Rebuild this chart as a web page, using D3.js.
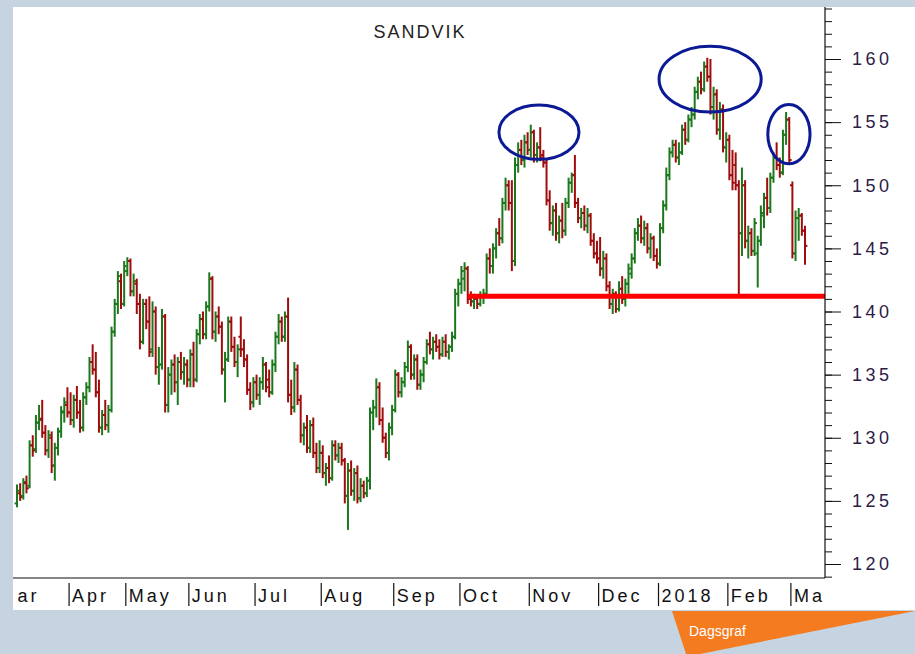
<!DOCTYPE html>
<html>
<head>
<meta charset="utf-8">
<script src="https://cdn.jsdelivr.net/npm/d3@7"></script>
<style>
  body { margin: 0; background: #c6d4e1; }
  svg { display: block; }
  text { font-family: "Liberation Sans", Arial, sans-serif; }
</style>
</head>
<body>
<svg width="915" height="654"></svg>
<script>
// titel och månader
const title = "SANDVIK";
const monthLabels = ["Mar", "Apr", "May", "Jun", "Jul", "Aug", "Sep", "Oct", "Nov", "Dec", "2018", "Feb", "Mar"];
const monthBars = [17, 18, 20, 21, 21, 23, 21, 22, 22, 19, 22, 20, 5];
const priceTicks = [120, 125, 130, 135, 140, 145, 150, 155, 160];

// dagsdata [open, high, low, close]
const ohlc = [
  // mar
  [124.8,126.3,124.5,125.8],[125.6,126.4,125.0,125.3],[125.4,126.8,125.1,126.5],[126.4,127.0,125.6,126.0],
  [126.2,129.8,126.0,129.4],[129.4,130.2,128.5,129.0],[129.1,131.8,128.8,131.2],[131.2,132.6,130.6,131.4],
  [131.5,133.0,130.0,130.4],[130.4,131.0,128.6,129.0],[129.0,130.6,128.4,130.2],[130.0,130.5,127.2,127.8],
  [127.8,129.6,126.6,129.2],[129.2,130.8,128.6,130.5],[130.5,132.5,130.0,132.1],[132.0,133.2,131.2,132.8],
  [132.6,134.0,131.6,132.0],
  // apr
  [132.0,133.6,131.0,131.4],[131.4,133.4,130.8,133.0],[133.0,134.1,131.5,132.0],[132.0,133.0,130.4,130.8],
  [130.8,133.6,130.5,133.2],[133.2,134.4,132.6,134.0],[134.0,136.4,133.6,136.0],[136.0,137.4,135.0,135.4],
  [135.4,136.8,133.2,133.6],[133.6,134.6,130.4,130.8],[130.8,132.2,130.2,131.8],[131.8,133.0,130.6,131.0],
  [131.0,132.6,130.4,132.2],[132.2,138.8,132.0,138.4],[138.4,141.0,138.0,140.6],[140.6,143.2,139.8,142.8],
  [142.4,143.0,140.2,140.6],[140.6,144.0,140.4,143.6],
  // may
  [143.2,144.3,142.8,144.0],[144.0,144.2,141.2,141.6],[141.6,143.0,141.2,142.4],[142.2,142.6,139.8,140.6],
  [140.6,141.4,137.0,137.6],[137.6,141.0,137.4,140.6],[140.6,141.0,138.6,139.2],[139.2,141.2,136.4,136.8],
  [137.0,140.8,136.4,140.0],[140.0,140.4,135.0,135.6],[135.6,137.2,134.2,135.8],[135.8,140.2,135.4,139.6],
  [139.6,139.8,132.0,132.6],[132.6,135.6,132.0,135.0],[135.0,136.2,133.4,135.8],[135.8,136.6,133.6,134.4],
  [134.4,136.4,132.6,136.0],[136.0,136.8,134.6,135.2],[135.2,136.4,134.2,135.8],[135.8,136.2,134.0,134.6],
  // jun
  [134.6,137.0,134.0,136.6],[136.6,137.6,134.0,134.6],[134.6,138.6,134.4,138.2],[138.2,139.8,137.4,139.4],
  [139.4,140.0,137.8,138.2],[138.2,140.8,137.8,140.4],[140.4,143.1,140.0,142.6],[142.6,142.8,137.8,138.4],
  [138.4,140.0,137.6,139.6],[139.6,140.4,138.2,138.8],[138.8,139.2,135.0,135.4],[135.4,136.8,132.8,136.2],
  [136.2,139.6,136.0,139.2],[139.2,139.6,136.8,137.2],[137.2,138.0,135.6,136.0],[136.0,137.4,134.8,137.0],
  [138.0,139.6,136.4,137.0],[137.0,137.8,135.6,136.2],[136.2,136.6,133.4,133.8],[133.8,134.4,132.2,132.8],
  [132.8,134.8,132.4,134.4],
  // jul
  [134.4,135.0,133.0,133.4],[133.4,134.8,132.6,134.4],[134.4,136.4,133.8,135.8],[135.8,136.0,133.6,134.0],
  [134.6,135.4,133.2,133.6],[133.6,136.2,133.4,135.8],[135.8,138.4,135.2,138.0],[138.0,139.8,137.4,139.2],
  [139.2,139.6,137.6,138.0],[138.0,140.0,137.6,139.6],[139.6,141.1,132.8,133.4],[133.4,134.6,131.8,132.4],
  [132.4,136.0,132.0,135.4],[135.4,135.8,132.6,133.0],[133.0,133.4,129.6,130.2],[130.2,131.2,129.4,130.8],
  [130.8,131.8,128.8,129.2],[129.2,131.4,128.8,131.0],[131.0,131.6,128.4,128.8],[128.8,129.6,127.2,127.6],
  [127.6,129.8,127.2,128.8],
  // aug
  [128.8,129.4,126.8,127.2],[127.2,128.0,126.2,127.6],[127.6,128.6,126.4,126.8],[126.8,129.8,126.6,129.4],
  [129.4,129.8,128.2,128.6],[128.6,129.6,128.0,129.2],[129.2,129.6,127.8,128.2],[128.2,128.4,124.8,125.4],
  [125.4,128.0,122.7,127.4],[127.4,128.2,125.4,125.8],[125.8,127.6,125.0,127.2],[127.2,127.8,124.8,125.2],
  [125.2,126.8,124.9,126.2],[126.2,126.6,125.2,125.6],[125.6,126.9,125.3,126.6],[126.6,132.4,125.9,132.0],
  [132.0,133.0,130.6,132.4],[132.4,134.7,131.6,134.0],[134.0,134.4,131.0,131.4],[131.4,132.4,129.6,130.0],
  [130.0,130.4,128.4,128.8],[128.8,131.2,128.2,130.8],[130.8,132.6,130.2,132.2],
  // sep
  [132.2,135.4,132.0,135.0],[135.0,135.2,133.2,133.6],[133.6,134.8,133.2,134.4],[134.4,136.0,134.0,135.6],
  [135.6,137.7,135.2,137.2],[137.2,137.4,134.6,135.0],[135.0,136.6,134.6,136.2],[136.2,136.6,133.8,134.2],
  [134.2,135.4,133.8,135.0],[135.0,136.4,134.4,136.0],[136.0,137.8,135.8,137.4],[137.4,138.4,136.6,137.0],
  [137.0,138.0,136.2,137.6],[137.6,138.2,136.8,137.2],[137.2,137.8,136.2,136.6],[136.6,138.0,136.4,137.6],
  [137.6,138.2,136.4,136.8],[136.8,137.4,136.2,137.2],[137.2,138.4,136.8,138.0],[138.0,141.8,137.8,141.4],
  [141.4,142.6,140.4,142.2],
  // oct
  [142.2,143.6,141.4,143.2],[142.6,143.9,141.6,143.4],[143.4,143.6,140.6,141.0],[141.0,141.6,140.4,140.8],
  [140.8,141.4,140.2,141.0],[141.0,141.2,140.2,140.6],[140.6,141.6,140.4,141.2],[141.2,141.8,140.6,141.4],
  [141.4,144.6,141.2,144.2],[144.2,145.0,143.0,143.6],[143.6,145.4,143.0,145.0],[145.0,146.6,144.2,146.2],
  [146.2,147.4,145.2,145.8],[145.8,149.0,145.4,148.6],[148.6,150.6,148.0,150.0],[150.0,150.4,148.0,148.6],
  [148.6,150.4,143.2,144.0],[144.0,152.2,143.6,151.6],[151.6,153.4,151.0,152.8],[152.8,153.6,151.6,152.0],
  [152.0,154.0,151.4,153.4],[153.4,154.2,152.4,152.8],
  // nov
  [152.8,154.8,152.2,154.2],[154.2,154.4,151.8,152.4],[152.4,153.4,151.8,153.0],[153.0,154.6,151.9,152.2],
  [152.4,152.8,151.4,151.8],[151.8,152.0,148.4,148.8],[148.8,149.6,146.4,147.0],[147.0,148.4,146.0,148.0],
  [148.0,148.6,145.6,146.2],[146.2,147.6,145.4,147.2],[147.2,148.6,145.8,146.4],[146.4,149.0,146.0,148.6],
  [148.6,150.6,148.2,150.2],[150.2,151.0,149.4,150.8],[150.8,152.4,148.2,148.6],[148.6,149.0,147.0,147.4],
  [147.4,148.2,146.6,147.8],[147.8,148.4,146.4,146.8],[146.8,148.2,146.2,147.6],[147.6,147.8,145.2,145.6],
  [145.6,146.2,144.2,144.6],[144.6,145.6,143.8,144.2],
  // dec
  [144.2,145.9,142.8,143.4],[143.4,144.8,142.6,144.2],[144.2,144.6,141.6,142.0],[142.0,142.4,140.2,140.6],
  [140.6,141.8,139.8,141.4],[141.4,141.6,139.9,140.2],[140.2,142.4,140.0,141.8],[141.8,142.8,140.6,141.0],
  [141.0,142.6,140.4,142.2],[142.2,143.8,141.4,143.4],[143.0,144.6,142.6,144.2],[144.2,146.6,143.8,146.2],
  [146.2,147.4,145.6,146.8],[146.8,147.6,145.4,145.8],[145.8,147.2,145.2,146.6],[146.6,147.0,144.6,145.0],
  [145.0,146.2,144.2,145.8],[145.8,146.0,144.0,144.4],[144.4,145.0,143.4,143.8],
  // jan
  [143.8,147.0,143.6,146.6],[146.6,148.8,146.2,148.4],[148.4,151.4,148.0,150.8],[150.8,153.0,150.4,152.6],
  [152.6,153.6,152.2,153.2],[153.2,153.6,151.8,152.2],[152.2,153.4,151.6,152.6],[152.6,154.8,152.4,154.4],
  [154.4,155.0,153.2,153.6],[153.6,155.6,153.4,155.2],[155.2,156.2,154.6,155.6],[155.6,157.8,155.2,157.4],
  [157.4,158.6,156.8,158.2],[158.2,159.0,157.2,157.6],[157.6,159.8,157.4,159.4],[159.4,160.1,158.2,158.6],
  [158.6,160.0,155.6,156.2],[156.2,157.8,155.2,157.2],[157.2,157.6,154.0,154.4],[154.4,156.6,153.6,156.0],
  [156.0,156.4,152.6,153.0],[153.0,154.2,151.8,153.6],
  // feb
  [153.6,154.0,150.4,150.8],[150.8,152.8,149.6,150.2],[151.6,152.6,149.6,150.0],[150.0,150.4,141.3,146.2],
  [146.2,151.4,144.4,150.0],[150.0,150.4,145.0,145.6],[145.6,146.8,144.2,146.2],[146.2,146.6,144.4,144.8],
  [144.8,147.4,144.4,147.0],[144.6,146.0,141.9,145.6],[145.6,148.4,145.2,147.8],[147.6,149.4,146.6,149.0],
  [149.0,150.6,147.6,148.2],[148.2,151.0,147.8,150.6],[150.6,152.6,150.2,152.2],[152.2,153.4,151.2,151.6],
  [151.6,152.2,150.6,151.0],[151.0,154.4,150.8,154.0],[154.0,155.8,153.2,155.2],[155.2,155.4,151.6,152.0],
  // mar
  [150.0,150.3,144.2,144.6],[144.6,148.0,144.0,147.4],[147.4,148.2,145.6,147.6],[147.6,147.8,146.0,146.4],
  [146.4,146.8,143.7,145.2]
];

// stödnivå och markeringar (stapelindex, pris, halv bredd i staplar, halv höjd i kr)
const support = { from: 143, level: 141.2 };
const tops = [
  { i: 165.6, p: 154.2, di: 12.7, dp: 2.15 },
  { i: 219.9, p: 158.4, di: 16.2, dp: 2.6 },
  { i: 244.9, p: 154.05, di: 6.7, dp: 2.35 }
];

const svg = d3.select("svg");

// vit panel
svg.append("rect").attr("x", 13).attr("y", 7).attr("width", 902).attr("height", 603).attr("fill", "#fff");

svg.append("defs").append("clipPath").attr("id", "clip")
  .append("rect").attr("x", 15).attr("y", 7).attr("width", 807).attr("height", 603);

const x = d3.scaleLinear().domain([0, ohlc.length - 1]).range([17, 805]);
const y = d3.scaleLinear().domain([120, 160]).range([564, 59]);
const axisX = 825, axisBottom = 578;

// titel
svg.append("text").attr("x", 420).attr("y", 38).attr("text-anchor", "middle")
  .attr("font-size", 18).attr("letter-spacing", 2).attr("fill", "#222").text(title);

// staplar
const bar = svg.append("g").selectAll("g").data(ohlc).join("g")
  .attr("stroke", d => d[3] >= d[0] ? "#1c781c" : "#a00c0c")
  .attr("stroke-width", 2);
bar.append("line")
  .attr("x1", (d, i) => x(i)).attr("x2", (d, i) => x(i))
  .attr("y1", d => y(d[1])).attr("y2", d => y(d[2]));
bar.append("line")
  .attr("x1", (d, i) => x(i) - 2.4).attr("x2", (d, i) => x(i))
  .attr("y1", d => y(d[0])).attr("y2", d => y(d[0]));
bar.append("line")
  .attr("x1", (d, i) => x(i)).attr("x2", (d, i) => x(i) + 2.4)
  .attr("y1", d => y(d[3])).attr("y2", d => y(d[3]));

// röd stödlinje
svg.append("line")
  .attr("x1", x(support.from)).attr("x2", axisX)
  .attr("y1", y(support.level)).attr("y2", y(support.level))
  .attr("stroke", "#ff0000").attr("stroke-width", 5);

// ellipser
svg.append("g").selectAll("ellipse").data(tops).join("ellipse")
  .attr("cx", d => x(d.i)).attr("cy", d => y(d.p))
  .attr("rx", d => x(d.i + d.di) - x(d.i)).attr("ry", d => y(d.p - d.dp) - y(d.p))
  .attr("fill", "none").attr("stroke", "#0b1a94").attr("stroke-width", 3);

// y-axel
const yAxisG = svg.append("g").attr("transform", `translate(${axisX},0)`);
yAxisG.append("g")
  .call(d3.axisRight(y).tickValues(d3.range(119, 165)).tickSize(7).tickFormat(""))
  .call(g => g.select(".domain").remove());
yAxisG.append("g")
  .call(d3.axisRight(y).tickValues(priceTicks).tickSize(16).tickPadding(11))
  .call(g => g.select(".domain").remove())
  .call(g => g.selectAll("text").attr("font-size", 18).attr("letter-spacing", 3.5)
    .attr("fill", "#2e1c45").attr("font-family", "Liberation Sans, Arial, sans-serif"));
yAxisG.selectAll("line").attr("stroke", "#111");
svg.append("line").attr("x1", axisX).attr("x2", axisX).attr("y1", 7).attr("y2", axisBottom)
  .attr("stroke", "#111").attr("stroke-width", 1.2);
svg.append("line").attr("x1", 13).attr("x2", axisX).attr("y1", axisBottom).attr("y2", axisBottom)
  .attr("stroke", "#111").attr("stroke-width", 1.2);

// månadsetiketter
let start = 0;
const months = monthBars.map((n, k) => {
  const m = { label: monthLabels[k], i: start };
  start += n;
  return m;
});
const mg = svg.append("g").attr("clip-path", "url(#clip)");
const mx = d => (d.i === 0 ? x(0) - 6 * (x(1) - x(0)) : x(d.i)) - 1.5;
mg.selectAll("line").data(months.slice(1)).join("line")
  .attr("x1", mx).attr("x2", mx).attr("y1", 583).attr("y2", 606)
  .attr("stroke", "#111").attr("stroke-width", 1.2);
mg.selectAll("text").data(months).join("text")
  .attr("x", d => mx(d) + 3).attr("y", 602)
  .attr("font-size", 18).attr("letter-spacing", 3).attr("fill", "#111")
  .text(d => d.label);

// orange flik
svg.append("path").attr("d", "M672,611 L915,611 L700,654 L686,654 Z").attr("fill", "#f47b20");
svg.append("text").attr("x", 689).attr("y", 636).attr("font-size", 14)
  .attr("fill", "#fff").text("Dagsgraf");
</script>
</body>
</html>
